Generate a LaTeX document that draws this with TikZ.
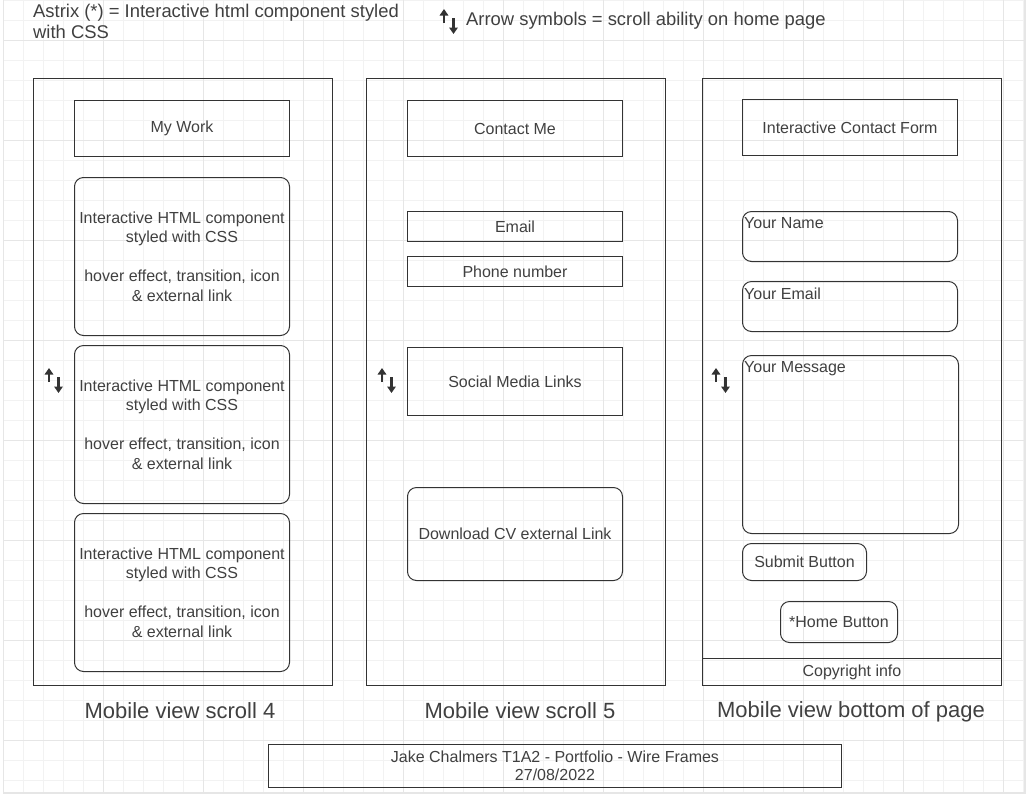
\documentclass[tikz,border=0pt]{standalone}
\usepackage{fontspec}
\setmainfont{Liberation Sans}
\usetikzlibrary{arrows.meta}
\definecolor{inkgray}{HTML}{333333}
\definecolor{textgray}{HTML}{404040}
\definecolor{gridminor}{HTML}{F2F2F2}
\definecolor{gridmajor}{HTML}{E6E6E6}
\tikzset{
  frame/.style={draw=inkgray, line width=1pt, minimum width=299pt, minimum height=607pt, inner sep=0pt, anchor=north west},
  box/.style={draw=inkgray, line width=1pt, text=textgray, font=\fontsize{16}{19.5}\selectfont, align=center, inner sep=0pt, anchor=north west},
  rbox/.style={box, rounded corners=9pt},
  fieldtext/.style={text=textgray, font=\fontsize{16}{19}\selectfont, anchor=north west, inner xsep=2pt, inner ysep=6.5pt},
  caption/.style={text=textgray, font=\fontsize{22}{26}\selectfont, inner sep=0pt},
  scrollarrow/.style={draw=inkgray, line width=2.4pt, -{Triangle[width=8.5pt,length=6.5pt]}}
}
\newcommand{\scrollsym}[2]{%
  \draw[scrollarrow] (#1,#2+14) -- (#1,#2);
  \draw[scrollarrow] (#1+9.5,#2+9) -- (#1+9.5,#2+25);
}
\begin{document}
\begin{tikzpicture}[x=1pt,y=-1pt]
\useasboundingbox (0,0) rectangle (1028,796);
\foreach \gx in {3,23,...,1023} \draw[gridminor, line width=0.8pt] (\gx,0) -- (\gx,793);
\foreach \gy in {0,20,...,780} \draw[gridminor, line width=0.8pt] (3,\gy) -- (1025,\gy);
\foreach \gx in {3,103,...,1003} \draw[gridmajor, line width=0.8pt] (\gx,0) -- (\gx,793);
\foreach \gy in {40,140,...,740} \draw[gridmajor, line width=0.8pt] (3,\gy) -- (1025,\gy);
\draw[gridmajor, line width=1.2pt] (3,793) -- (1025,793) -- (1025,0);

\node[anchor=north west, align=left, text=textgray, font=\fontsize{18.4}{21}\selectfont, inner sep=0pt] (legend) at (33,3.5) {Astrix (*) = Interactive html component styled\\with CSS};
\scrollsym{444}{9}
\node[anchor=west, text=textgray, font=\fontsize{18.4}{21}\selectfont, inner sep=0pt] (arrowkey) at (466,20.5) {Arrow symbols = scroll ability on home page};

\node[frame] (scroll4) at (33,78) {};
\node[box, minimum width=215pt, minimum height=56pt] (mywork) at (74,100) {My Work};
\node[rbox, minimum width=215pt, minimum height=158pt] (card1) at (74,177) {Interactive HTML component\\styled with CSS\\[19.5pt]hover effect, transition, icon\\\& external link};
\node[rbox, minimum width=215pt, minimum height=158pt] (card2) at (74,345) {Interactive HTML component\\styled with CSS\\[19.5pt]hover effect, transition, icon\\\& external link};
\node[rbox, minimum width=215pt, minimum height=158pt] (card3) at (74,513) {Interactive HTML component\\styled with CSS\\[19.5pt]hover effect, transition, icon\\\& external link};
\scrollsym{49}{368}
\node[caption] (cap4) at (180,711) {Mobile view scroll 4};

\node[frame] (scroll5) at (366,78) {};
\node[box, minimum width=215pt, minimum height=56pt] (contact) at (407,100) {Contact Me};
\node[box, minimum width=215pt, minimum height=30pt] (email) at (407,211) {Email};
\node[box, minimum width=215pt, minimum height=30pt] (phone) at (407,256) {Phone number};
\node[box, minimum width=215pt, minimum height=68pt] (social) at (407,347) {Social Media Links};
\node[rbox, minimum width=215pt, minimum height=93pt] (cv) at (407,487) {Download CV external Link};
\scrollsym{382}{368}
\node[caption] (cap5) at (520,711) {Mobile view scroll 5};

\node[frame] (bottom) at (702,78) {};
\node[box, minimum width=215pt, minimum height=56pt] (form) at (742,99) {Interactive Contact Form};
\node[rbox, minimum width=215pt, minimum height=50pt] (yname) at (742,211) {};
\node[fieldtext] (ynamelbl) at (yname.north west) {Your Name};
\node[rbox, minimum width=215pt, minimum height=50pt] (yemail) at (742,281) {};
\node[fieldtext] (yemaillbl) at (yemail.north west) {Your Email};
\node[rbox, minimum width=216pt, minimum height=178pt] (ymsg) at (742,355) {};
\node[fieldtext] (ymsglbl) at (ymsg.north west) {Your Message};
\node[rbox, minimum width=124pt, minimum height=37pt] (submit) at (742,543) {Submit Button};
\node[rbox, minimum width=117pt, minimum height=41pt] (home) at (780,601) {*Home Button};
\node[box, minimum width=299pt, minimum height=27pt] (copyright) at (702,658) {Copyright info};
\scrollsym{716}{368}
\node[caption] (capbottom) at (851,712) {Mobile view bottom of page};

\node[box, font=\fontsize{16}{18}\selectfont, minimum width=573pt, minimum height=43pt] (credits) at (268,744) {Jake Chalmers T1A2 - Portfolio - Wire Frames\\27/08/2022};
\end{tikzpicture}
\end{document}
